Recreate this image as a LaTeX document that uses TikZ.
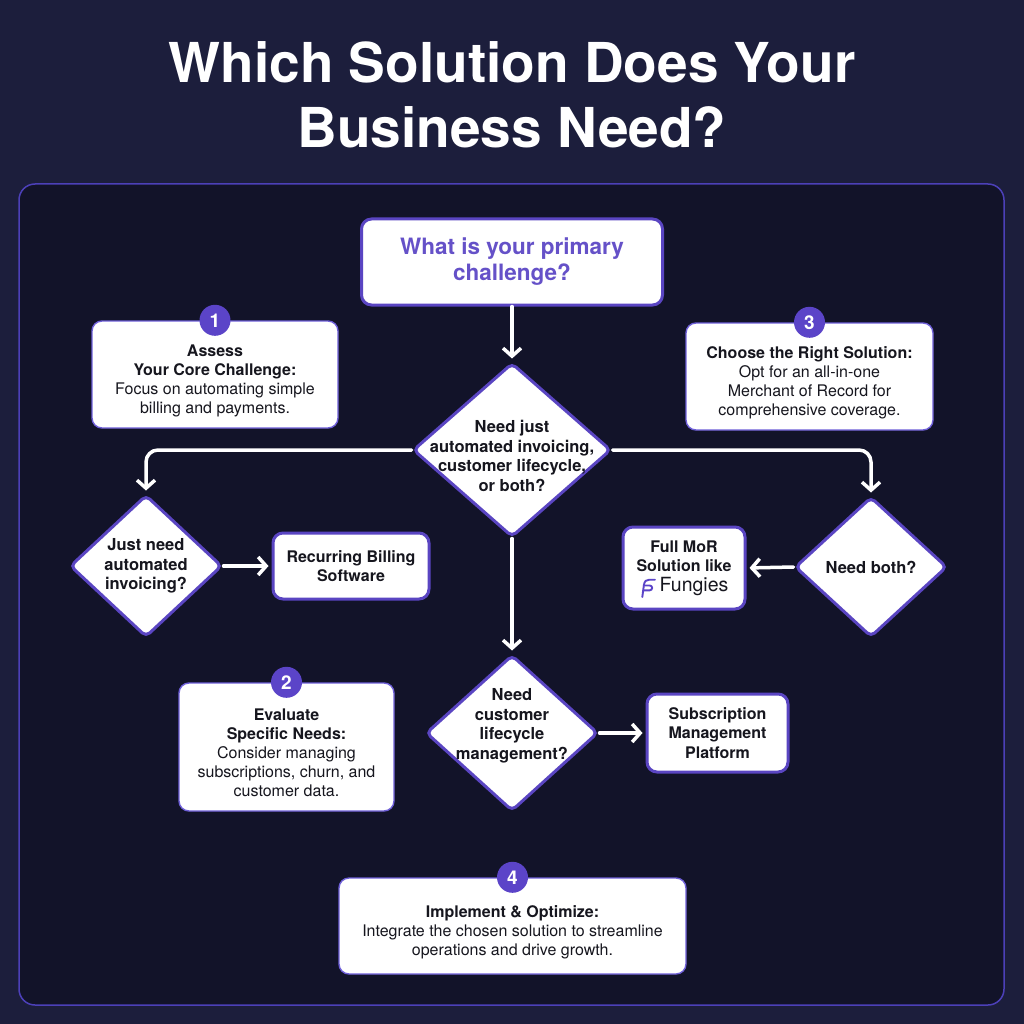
\documentclass[tikz,border=0pt]{standalone}
\usepackage{fontspec}
\setmainfont{TeX Gyre Heros}
\usetikzlibrary{shapes.geometric}
\usetikzlibrary{arrows.meta}
\usetikzlibrary{positioning}
\usetikzlibrary{calc}
\definecolor{bgouter}{HTML}{1C1E3C}
\definecolor{bgpanel}{HTML}{121329}
\definecolor{panelline}{HTML}{4C40B8}
\definecolor{mpurple}{HTML}{5A45C2}
\definecolor{lpurple}{HTML}{6E5FD8}
\definecolor{bpurple}{HTML}{5B44C8}
\definecolor{tpurple}{HTML}{6551C8}
\definecolor{ink}{HTML}{16161E}
\tikzset{
  box/.style={draw=mpurple, line width=3pt, fill=white, rounded corners=10pt, align=center,
    text=ink, font=\fontsize{16}{19.5}\selectfont\bfseries, inner sep=2pt},
  infobox/.style={draw=lpurple, line width=1.4pt, fill=white, rounded corners=10pt},
  infotext/.style={align=center, text=ink, font=\fontsize{16}{19}\selectfont},
  decision/.style={diamond, draw=mpurple, line width=3pt, fill=white, inner sep=0pt, rounded corners=5pt},
  dtext/.style={align=center, text=ink, font=\fontsize{16.5}{19.5}\selectfont\bfseries},
  badge/.style={circle, fill=bpurple, text=white, minimum size=31pt, inner sep=0pt,
    font=\fontsize{19}{19}\selectfont\bfseries},
  flow/.style={draw=white, line width=3.5pt, line cap=round, -{Straight Barb[length=8pt,width=18pt]}, shorten >=3pt},
  heading/.style={text=white, anchor=base, font=\fontsize{55}{65}\selectfont\bfseries},
  logo/.style={draw=bpurple, line width=1.9pt, line cap=round, line join=round},
}
\begin{document}
\begin{tikzpicture}[x=1pt,y=-1pt]
\useasboundingbox (0,0) rectangle (1024,1024);
\fill[bgouter] (0,0) rectangle (1024,1024);
\draw[panelline, line width=1.5pt, fill=bgpanel, rounded corners=16pt] (19,184) rectangle (1004,1005);
% title
\node[heading] (t1) at (512,83) {Which Solution Does Your};
\node[heading] (t2) at (512,148) {Business Need?};
% question and decisions
\node[box, minimum width=301pt, minimum height=86pt, text=tpurple,
  font=\fontsize{22.5}{26}\selectfont\bfseries] (q0) at (512,262) {What is your primary\\challenge?};
\node[decision, minimum width=198pt, minimum height=174pt,
  label={[dtext,yshift=-6pt]center:{Need just\\automated invoicing,\\customer lifecycle,\\or both?}}] (d0) at (512,450) {};
\node[decision, minimum width=152pt, minimum height=142pt,
  label={[dtext]center:{Just need\\automated\\invoicing?}}] (d1) at (146,566) {};
\node[decision, minimum width=152pt, minimum height=140pt,
  label={[dtext]center:{Need both?}}] (d2) at (871,567) {};
\node[decision, minimum width=172pt, minimum height=156pt,
  label={[dtext,yshift=7pt]center:{Need\\customer\\lifecycle\\management?}}] (d3) at (512,733) {};
% results
\node[box, minimum width=156pt, minimum height=66pt] (r1) at (351,566) {Recurring Billing\\Software};
\node[box, minimum width=122pt, minimum height=82pt] (r2) at (684,568)
  {Full MoR\\Solution like\\\hspace*{20pt}{\fontsize{19.5}{21}\selectfont\mdseries Fungies}};
\node[box, minimum width=141pt, minimum height=78pt] (r3) at (717.5,733) {Subscription\\Management\\Platform};
% Fungies mark
\begin{scope}[shift={(640,597)}, x=1.15pt, y=1.15pt]
  \draw[logo] (2,0) -- (3.4,10.5) .. controls (3.9,14) and (5.5,15) .. (8,15) -- (13,15);
  \draw[logo] (2.8,5.8) -- (8.5,5.8) .. controls (11.2,5.8) and (11.2,10) .. (8.5,10) -- (3.3,10);
\end{scope}
% numbered steps
\node[infobox, minimum width=246pt, minimum height=107pt,
  label={[infotext,yshift=-6pt]center:{\textbf{Assess}\\\textbf{Your Core Challenge:}\\Focus on automating simple\\billing and payments.}}] (s1) at (215,374.5) {};
\node[badge] (b1) at (s1.north) {1};
\node[infobox, minimum width=247pt, minimum height=107pt,
  label={[infotext,yshift=-6pt]center:{\textbf{Choose the Right Solution:}\\Opt for an all-in-one\\Merchant of Record for\\comprehensive coverage.}}] (s3) at (809.5,376.5) {};
\node[badge] (b3) at (s3.north) {3};
\node[infobox, minimum width=215pt, minimum height=128pt,
  label={[infotext,yshift=-6pt]center:{\textbf{Evaluate}\\\textbf{Specific Needs:}\\Consider managing\\subscriptions, churn, and\\customer data.}}] (s2) at (286.5,747) {};
\node[badge] (b2) at (s2.north) {2};
\node[infobox, minimum width=347pt, minimum height=96pt,
  label={[infotext,yshift=-6pt]center:{\textbf{Implement \& Optimize:}\\Integrate the chosen solution to streamline\\operations and drive growth.}}] (s4) at (512.5,926) {};
\node[badge] (b4) at (s4.north) {4};
% connectors
\draw[flow] (q0) -- (d0);
\draw[flow, rounded corners=12pt] (d0.west) -| (d1.north);
\draw[flow, rounded corners=12pt] (d0.east) -| (d2.north);
\draw[flow] (d0.south) -- (d3.north);
\draw[flow] (d1.east) -- (r1.west);
\draw[flow] (d2.west) -- (r2.east);
\draw[flow] (d3.east) -- (r3.west);
\end{tikzpicture}
\end{document}
